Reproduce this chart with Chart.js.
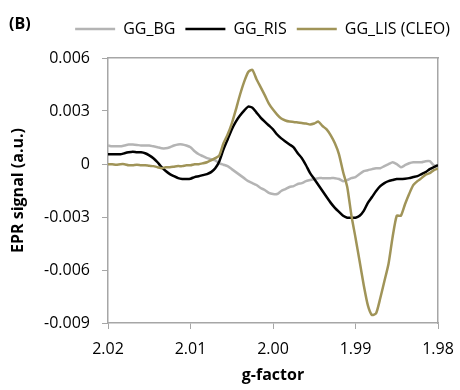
<!DOCTYPE html>
<html>
<head>
<meta charset="utf-8">
<script src="https://cdn.jsdelivr.net/npm/chart.js@4.4.1/dist/chart.umd.min.js"></script>
<style>
  html, body { margin: 0; padding: 0; background: #fff; }
  #wrap { position: relative; width: 460px; height: 390px; }
  #panel { position: absolute; left: 9px; top: 13px; font: bold 16px/20px "Open Sans", sans-serif; color: #000; }
</style>
</head>
<body>
<div id="wrap">
  <canvas id="epr" width="460" height="390"></canvas>
  <div id="panel">(B)</div>
</div>
<script>
// EPR spectra vs g-factor, sampled every 0.0005
const gValues = [
  2.0200, 2.0195, 2.0190, 2.0185, 2.0180, 2.0175, 2.0170, 2.0165, 2.0160, 2.0155,
  2.0150, 2.0145, 2.0140, 2.0135, 2.0130, 2.0125, 2.0120, 2.0115, 2.0110, 2.0105,
  2.0100, 2.0095, 2.0090, 2.0085, 2.0080, 2.0075, 2.0070, 2.0065, 2.0060, 2.0055,
  2.0050, 2.0045, 2.0040, 2.0035, 2.0030, 2.0025, 2.0020, 2.0015, 2.0010, 2.0005,
  2.0000, 1.9995, 1.9990, 1.9985, 1.9980, 1.9975, 1.9970, 1.9965, 1.9960, 1.9955,
  1.9950, 1.9945, 1.9940, 1.9935, 1.9930, 1.9925, 1.9920, 1.9915, 1.9910, 1.9905,
  1.9900, 1.9895, 1.9890, 1.9885, 1.9880, 1.9875, 1.9870, 1.9865, 1.9860, 1.9855,
  1.9850, 1.9845, 1.9840, 1.9835, 1.9830, 1.9825, 1.9820, 1.9815, 1.9810, 1.9805,
  1.9800
];

const bgSignal = [
  0.00105, 0.00100, 0.00100, 0.00100, 0.00105, 0.00110, 0.00110, 0.00108, 0.00105, 0.00105,
  0.00105, 0.00100, 0.00095, 0.00089, 0.00089, 0.00095, 0.00105, 0.00111, 0.00111, 0.00105,
  0.00095, 0.00072, 0.00055, 0.00044, 0.00033, 0.00027, 0.00021, 0.00004, -0.00004, -0.00012,
  -0.00029, -0.00046, -0.00063, -0.00080, -0.00097, -0.00108, -0.00119, -0.00136, -0.00147, -0.00164,
  -0.00170, -0.00170, -0.00153, -0.00142, -0.00130, -0.00125, -0.00113, -0.00108, -0.00097, -0.00091,
  -0.00085, -0.00080, -0.00080, -0.00080, -0.00080, -0.00080, -0.00085, -0.00097, -0.00091, -0.00080,
  -0.00074, -0.00057, -0.00040, -0.00035, -0.00029, -0.00024, -0.00024, -0.00012, -0.00001, 0.00010,
  -0.00001, -0.00018, -0.00007, 0.00004, 0.00010, 0.00010, 0.00010, 0.00016, 0.00016, -0.00007,
  -0.00012
];

const risSignal = [
  0.00055, 0.00055, 0.00055, 0.00055, 0.00061, 0.00066, 0.00069, 0.00066, 0.00066, 0.00061,
  0.00049, 0.00033, 0.00010, -0.00018, -0.00040, -0.00057, -0.00069, -0.00080, -0.00085, -0.00085,
  -0.00083, -0.00074, -0.00069, -0.00063, -0.00057, -0.00046, -0.00024, 0.00016, 0.00083, 0.00139,
  0.00196, 0.00240, 0.00274, 0.00302, 0.00325, 0.00319, 0.00291, 0.00263, 0.00240, 0.00218,
  0.00196, 0.00167, 0.00145, 0.00128, 0.00111, 0.00094, 0.00061, 0.00033, -0.00007, -0.00052,
  -0.00085, -0.00119, -0.00153, -0.00187, -0.00220, -0.00248, -0.00271, -0.00293, -0.00304, -0.00304,
  -0.00304, -0.00293, -0.00265, -0.00220, -0.00187, -0.00153, -0.00125, -0.00108, -0.00097, -0.00091,
  -0.00085, -0.00085, -0.00083, -0.00080, -0.00074, -0.00069, -0.00057, -0.00046, -0.00029, -0.00018,
  -0.00007
];

const lisSignal = [
  -0.00001, -0.00001, -0.00004, -0.00001, -0.00001, -0.00007, -0.00007, -0.00004, -0.00007, -0.00007,
  -0.00010, -0.00012, -0.00018, -0.00024, -0.00018, -0.00018, -0.00015, -0.00012, -0.00012, -0.00007,
  -0.00007, -0.00001, -0.00001, 0.00004, 0.00010, 0.00021, 0.00033, 0.00049, 0.00117, 0.00167,
  0.00229, 0.00308, 0.00392, 0.00465, 0.00521, 0.00533, 0.00480, 0.00435, 0.00390, 0.00342,
  0.00308, 0.00280, 0.00257, 0.00246, 0.00240, 0.00238, 0.00235, 0.00232, 0.00229, 0.00224,
  0.00229, 0.00240, 0.00215, 0.00196, 0.00162, 0.00117, 0.00055, -0.00045, -0.00130, -0.00290,
  -0.00417, -0.00550, -0.00686, -0.00800, -0.00855, -0.00845, -0.00760, -0.00664, -0.00566, -0.00413,
  -0.00293, -0.00293, -0.00228, -0.00170, -0.00120, -0.00097, -0.00080, -0.00060, -0.00052, -0.00035,
  -0.00025
];

const seriesNames = ['GG_BG', 'GG_RIS', 'GG_LIS (CLEO)'];
const seriesColors = ['#b4b4b4', '#000000', '#a09458'];
const yTicks = [-0.009, -0.006, -0.003, 0, 0.003, 0.006];
const xTicks = [2.02, 2.01, 2.00, 1.99, 1.98];

const FRAME = '#a6a6a6';

Chart.defaults.font.family = '"Open Sans", sans-serif';
Chart.defaults.font.size = 16;
Chart.defaults.color = '#000';

const points = vals => gValues.map((g, i) => ({ x: g, y: vals[i] }));

const datasets = [bgSignal, risSignal, lisSignal].map((vals, i) => ({
  label: seriesNames[i],
  data: points(vals),
  borderColor: seriesColors[i],
  backgroundColor: seriesColors[i],
  borderWidth: 2.5,
  pointRadius: 0,
  tension: 0.2,
  fill: false,
  order: 2 - i,          // CLEO trace on top
  xAxisID: 'x',
  yAxisID: 'y'
}));

new Chart(document.getElementById('epr'), {
  type: 'line',
  data: { datasets },
  options: {
    responsive: false,
    animation: false,
    layout: { padding: { top: 11, left: 0, right: 0, bottom: 0 } },
    plugins: {
      tooltip: { enabled: false },
      legend: {
        position: 'top',
        align: 'end',
        labels: {
          usePointStyle: true,
          pointStyle: 'line',
          pointStyleWidth: 40,
          padding: 10,
          color: '#000',
          font: { size: 16 },
          sort: (a, b) => a.datasetIndex - b.datasetIndex
        }
      }
    },
    scales: {
      x: {
        type: 'linear',
        position: 'bottom',
        reverse: true,
        min: xTicks[xTicks.length - 1],
        max: xTicks[0],
        afterBuildTicks: s => { s.ticks = xTicks.map(v => ({ value: v })); },
        ticks: { callback: v => v.toFixed(2), padding: 11, maxRotation: 0, color: '#000' },
        grid: { drawOnChartArea: false, tickLength: 6, color: FRAME },
        border: { color: FRAME, width: 1.5 },
        title: { display: true, text: 'g-factor', font: { size: 16, weight: 'bold' }, padding: { top: 0, bottom: 5 } },
        afterFit: s => {
          s.height = 67;
          // end labels only need half their width beside the plot
          s.paddingLeft = 17;
          s.paddingRight = 17;
        }
      },
      xTop: {
        type: 'linear',
        position: 'top',
        reverse: true,
        min: xTicks[xTicks.length - 1],
        max: xTicks[0],
        ticks: { display: false },
        grid: { display: false },
        border: { color: FRAME, width: 1.5 },
        afterFit: s => { s.height = 11; }
      },
      y: {
        type: 'linear',
        position: 'left',
        min: yTicks[0],
        max: yTicks[yTicks.length - 1],
        afterBuildTicks: s => { s.ticks = yTicks.map(v => ({ value: v })); },
        ticks: {
          padding: 12,
          color: '#000',
          callback: v => {
            const r = Math.round(v * 1000);
            return r === 0 ? '0' : (r / 1000).toFixed(3);
          }
        },
        grid: { drawOnChartArea: false, tickLength: 6, color: FRAME },
        border: { color: FRAME, width: 1.5 },
        title: { display: true, text: 'EPR signal (a.u.)', font: { size: 16, weight: 'bold' }, padding: { top: 9, bottom: 0 } },
        afterFit: s => { s.width = 108; }
      },
      yRight: {
        type: 'linear',
        position: 'right',
        min: yTicks[0],
        max: yTicks[yTicks.length - 1],
        ticks: { display: false },
        grid: { display: false },
        border: { color: FRAME, width: 1.5 },
        afterFit: s => { s.width = 22; }
      }
    }
  }
});
</script>
</body>
</html>
